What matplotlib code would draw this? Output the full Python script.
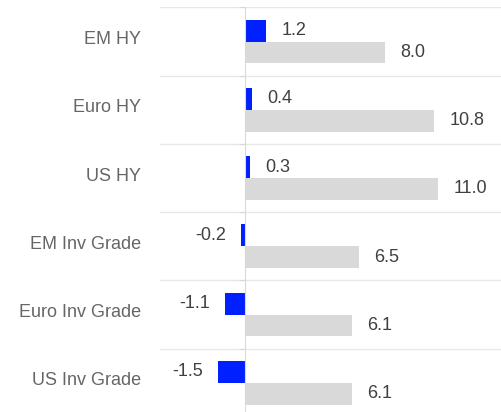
import matplotlib
matplotlib.use("Agg")
import matplotlib.pyplot as plt
import numpy as np

categories = ["EM HY", "Euro HY", "US HY", "EM Inv Grade", "Euro Inv Grade", "US Inv Grade"]
change = [1.2, 0.4, 0.3, -0.2, -1.1, -1.5]
level = [8.0, 10.8, 11.0, 6.5, 6.1, 6.1]

BLUE = "#0020ff"
GREY = "#d9d9d9"
LINE = "#e8e8e8"

plt.rcParams["font.family"] = ["Liberation Sans", "DejaVu Sans"]

fig = plt.figure(figsize=(5.01, 4.12), dpi=100)
ax = fig.add_axes([0.319, -0.012, 0.681, 0.994])

y = np.arange(len(categories))
h = 0.32
ax.barh(y - h / 2, change, height=h, color=BLUE, zorder=2)
ax.barh(y + h / 2, level, height=h, color=GREY, zorder=2)

ax.set_xlim(-4.84, 14.59)
ax.set_ylim(len(categories) - 0.5, -0.5)

# value labels
for yi, v in zip(y, change):
    ax.annotate(f"{v:.1f}", (v, yi - h / 2), textcoords="offset points",
                xytext=(11 if v >= 0 else -11, 0), va="center",
                ha="left" if v >= 0 else "right", fontsize=13, color="#404040")
for yi, v in zip(y, level):
    ax.annotate(f"{v:.1f}", (v, yi + h / 2), textcoords="offset points",
                xytext=(11, 0), va="center", ha="left", fontsize=13, color="#404040")

# category labels, left of the plot area
for yi, c in zip(y, categories):
    ax.text(-0.054, yi - 0.03, c, transform=ax.get_yaxis_transform(),
            ha="right", va="center", fontsize=13, color="#666666")

# separators between categories
for b in np.arange(-0.5, len(categories), 1.0):
    ax.axhline(b, color=LINE, lw=1, zorder=1)

# zero axis with small ticks at the separators
for s in ["top", "right", "bottom"]:
    ax.spines[s].set_visible(False)
ax.spines["left"].set_position(("data", 0))
ax.spines["left"].set_color(GREY)
ax.spines["left"].set_zorder(3)
ax.set_yticks(np.arange(-0.5, len(categories), 1.0))
ax.set_yticklabels([])
ax.tick_params(axis="y", length=4, color=GREY, direction="out")
ax.set_xticks([])

fig.savefig("out.png", dpi=100)
